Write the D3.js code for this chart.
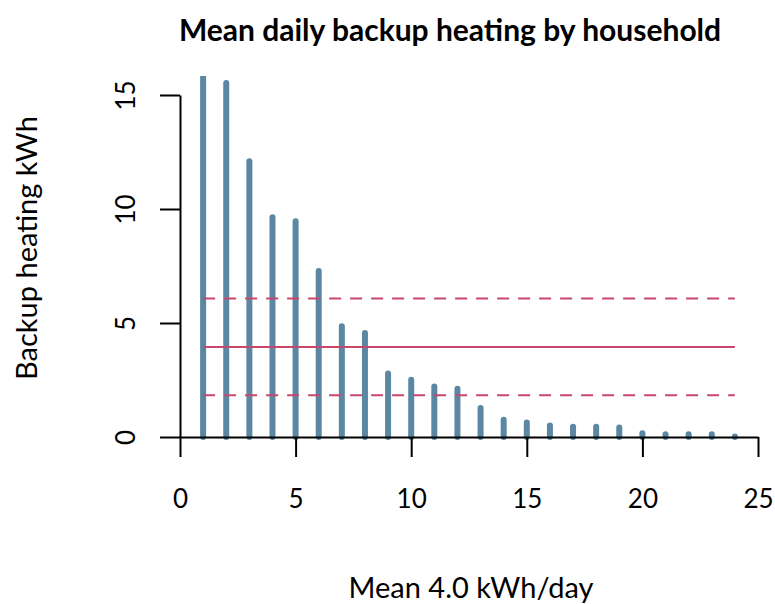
<!DOCTYPE html>
<html>
<head>
<meta charset="utf-8">
<script src="https://cdn.jsdelivr.net/npm/d3@7"></script>
<style>
  body { margin: 0; background: #fff; }
  text { font-family: Lato, "Open Sans", sans-serif; fill: #000; }
</style>
</head>
<body>
<div id="chart"></div>
<script>
// households ranked by mean daily backup heating
var households = d3.range(1, 25);
var backupKwh = [16.5, 15.53, 12.09, 9.64, 9.46, 7.28, 4.86, 4.56, 2.78, 2.51, 2.22, 2.12,
                 1.27, 0.76, 0.64, 0.50, 0.45, 0.45, 0.42, 0.16, 0.12, 0.12, 0.12, 0.02];
var meanKwh = 3.95;
var bandKwh = [6.07, 1.83];
var xTicks = [0, 5, 10, 15, 20, 25];
var yTicks = [0, 5, 10, 15];

var WIDTH = 775, HEIGHT = 604;
var BAR = "#5B87A3", LINE = "#C8476D";

function drawChart(id)
{
    var svg = d3.select(id).append("svg")
                .attr("width", WIDTH)
                .attr("height", HEIGHT);

    var x = d3.scaleLinear().domain([0, 25]).range([180, 758]);
    var y = d3.scaleLinear().domain([0, 15]).range([437, 95]);

    // plot region clip (top of first bar is cut)
    svg.append("clipPath").attr("id", "plotclip")
       .append("rect")
         .attr("x", 150).attr("y", 76)
         .attr("width", WIDTH - 150).attr("height", 400);

    var plot = svg.append("g").attr("clip-path", "url(#plotclip)");

    plot.selectAll(".bar")
        .data(households)
        .enter().append("line")
          .attr("class", "bar")
          .attr("x1", function(d) { return x(d); })
          .attr("x2", function(d) { return x(d); })
          .attr("y1", y(0))
          .attr("y2", function(d, i) { return y(backupKwh[i]); })
          .attr("stroke", BAR)
          .attr("stroke-width", 6)
          .attr("stroke-linecap", "round");

    var first = households[0], last = households[households.length - 1];

    plot.append("line")
        .attr("x1", x(first)).attr("x2", x(last))
        .attr("y1", y(meanKwh)).attr("y2", y(meanKwh))
        .attr("stroke", LINE).attr("stroke-width", 2);

    plot.selectAll(".band")
        .data(bandKwh)
        .enter().append("line")
          .attr("class", "band")
          .attr("x1", x(first)).attr("x2", x(last))
          .attr("y1", function(d) { return y(d); })
          .attr("y2", function(d) { return y(d); })
          .attr("stroke", LINE).attr("stroke-width", 2)
          .attr("stroke-dasharray", "12,9");

    // axes
    var xAxis = svg.append("g")
        .attr("transform", "translate(0," + y(0) + ")")
        .call(d3.axisBottom(x).tickValues(xTicks).tickSize(20).tickSizeOuter(0).tickPadding(33));
    xAxis.selectAll("text").style("font-size", "26px");

    var yAxis = svg.append("g")
        .attr("transform", "translate(" + x(0) + ",0)")
        .call(d3.axisLeft(y).tickValues(yTicks).tickSize(20).tickSizeOuter(0).tickPadding(0));
    yAxis.selectAll("text")
        .style("font-size", "26px")
        .attr("text-anchor", "middle")
        .attr("x", null).attr("dy", null)
        .attr("transform", "translate(-45,0) rotate(-90)");

    svg.selectAll(".domain, .tick line").attr("stroke", "#000").attr("stroke-width", 2);

    svg.append("text")
       .attr("x", 450).attr("y", 41)
       .attr("text-anchor", "middle")
       .style("font-size", "30px").style("font-weight", "bold")
       .text("Mean daily backup heating by household");

    svg.append("text")
       .attr("x", 471).attr("y", 598)
       .attr("text-anchor", "middle")
       .style("font-size", "29px")
       .text("Mean 4.0 kWh/day");

    svg.append("text")
       .attr("transform", "translate(37,248) rotate(-90)")
       .attr("text-anchor", "middle")
       .style("font-size", "29px")
       .text("Backup heating kWh");
}

drawChart("#chart");
</script>
</body>
</html>
